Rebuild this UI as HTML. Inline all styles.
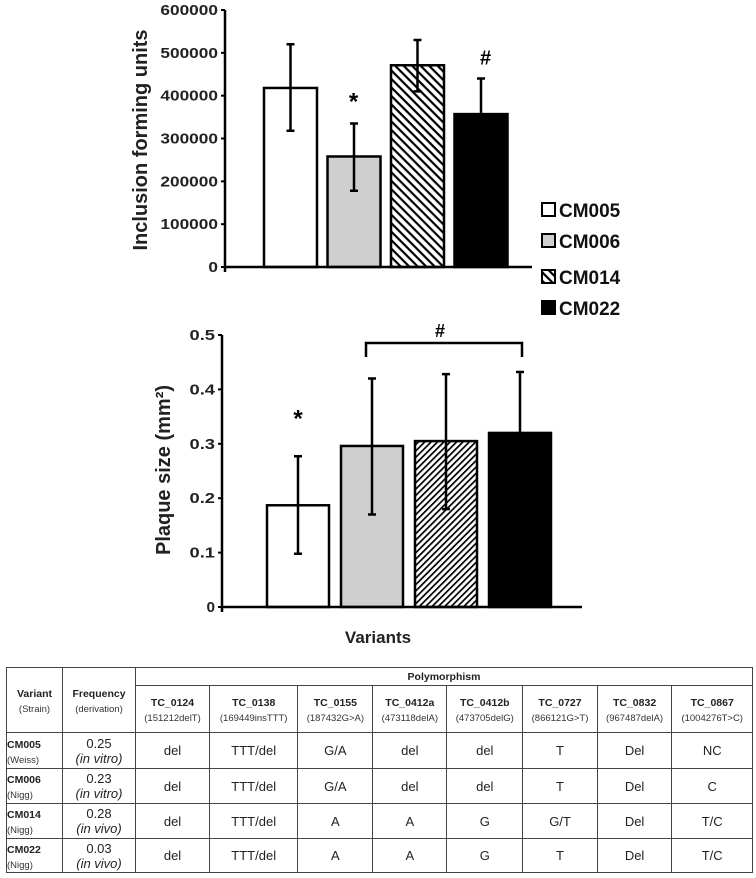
<!DOCTYPE html>
<html><head><meta charset="utf-8"><style>
body{margin:0;background:#fff;width:756px;height:878px;overflow:hidden;font-family:"Liberation Sans",sans-serif}
svg{position:absolute;left:0;top:0}
table{position:absolute;left:6px;top:667px;width:747px;border-collapse:collapse;font-family:"Liberation Sans Narrow","Liberation Sans",sans-serif;color:#222}
td{border:1.5px solid #444;text-align:center;padding:0;font-size:13px}
.h{font-weight:bold;font-size:10.5px}
.s{font-size:9.5px;color:#333}
</style></head><body>
<svg width="756" height="665">
<defs>
<pattern id="hatchA" width="6" height="6" patternUnits="userSpaceOnUse" patternTransform="rotate(45)"><rect width="6" height="6" fill="#fff"/><rect width="6" height="2.2" fill="#000"/></pattern>
<pattern id="hatchB" width="4.5" height="4.5" patternUnits="userSpaceOnUse" patternTransform="rotate(-45)"><rect width="4.5" height="4.5" fill="#fff"/><rect width="4.5" height="1.7" fill="#000"/></pattern>
</defs>
<g id="top"></g>
<g id="bot"></g>
</svg>
<table>
<tr style="height:18px"><td rowspan="2" style="width:55px"><span class="h">Variant</span><br><span class="s">(Strain)</span></td><td rowspan="2" style="width:72px"><span class="h">Frequency</span><br><span class="s">(derivation)</span></td><td colspan="8" class="h">Polymorphism</td></tr>
<tr style="height:47px"><td><span class="h">TC_0124</span><br><span class="s">(151212delT)</span></td><td><span class="h">TC_0138</span><br><span class="s">(169449insTTT)</span></td><td><span class="h">TC_0155</span><br><span class="s">(187432G&gt;A)</span></td><td><span class="h">TC_0412a</span><br><span class="s">(473118delA)</span></td><td><span class="h">TC_0412b</span><br><span class="s">(473705delG)</span></td><td><span class="h">TC_0727</span><br><span class="s">(866121G&gt;T)</span></td><td><span class="h">TC_0832</span><br><span class="s">(967487delA)</span></td><td><span class="h">TC_0867</span><br><span class="s">(1004276T&gt;C)</span></td></tr>
<tr style="height:36px"><td style="text-align:left"><span class="h">CM005</span><br><span class="s">(Weiss)</span></td><td>0.25<br><i>(in vitro)</i></td><td>del</td><td>TTT/del</td><td>G/A</td><td>del</td><td>del</td><td>T</td><td>Del</td><td>NC</td></tr>
<tr style="height:35px"><td style="text-align:left"><span class="h">CM006</span><br><span class="s">(Nigg)</span></td><td>0.23<br><i>(in vitro)</i></td><td>del</td><td>TTT/del</td><td>G/A</td><td>del</td><td>del</td><td>T</td><td>Del</td><td>C</td></tr>
<tr style="height:35px"><td style="text-align:left"><span class="h">CM014</span><br><span class="s">(Nigg)</span></td><td>0.28<br><i>(in vivo)</i></td><td>del</td><td>TTT/del</td><td>A</td><td>A</td><td>G</td><td>G/T</td><td>Del</td><td>T/C</td></tr>
<tr style="height:34px"><td style="text-align:left"><span class="h">CM022</span><br><span class="s">(Nigg)</span></td><td>0.03<br><i>(in vivo)</i></td><td>del</td><td>TTT/del</td><td>A</td><td>A</td><td>G</td><td>T</td><td>Del</td><td>T/C</td></tr>
</table>
<script>
const categories=["CM005","CM006","CM014","CM022"];
const ifuValues=[418000,258000,471000,357000];
const ifuErrLow=[318000,178000,410000,275000];
const ifuErrHigh=[520000,335000,530000,440000];
const ifuTicks=[0,100000,200000,300000,400000,500000,600000];
const plaqueValues=[0.187,0.296,0.305,0.320];
const plaqueErrLow=[0.098,0.170,0.180,0.210];
const plaqueErrHigh=[0.277,0.420,0.428,0.432];
const plaqueTicks=[0,0.1,0.2,0.3,0.4,0.5];
const fills=["#fff","#cfcfcf","url(#hatchA)","#000"];
const fillsB=["#fff","#cfcfcf","url(#hatchB)","#000"];
const NS="http://www.w3.org/2000/svg";
function mk(p,t,a,txt){const e=document.createElementNS(NS,t);for(const k in a)e.setAttribute(k,a[k]);if(txt!==undefined)e.textContent=txt;p.appendChild(e);return e;}
function chart(g,o){
  const y=v=>o.y0-(v-o.min)/(o.max-o.min)*(o.y0-o.y1);
  const x=i=>o.xs+i*o.step;
  o.ticks.forEach(t=>{
    const s=String(t);
    const tl=mk(g,"text",{x:o.ax-7,y:y(t)+5,"text-anchor":"end","font-size":"15","font-weight":"bold",fill:"#222",textLength:s.length*o.cw,lengthAdjust:"spacingAndGlyphs"},s);
    
    
    mk(g,"line",{x1:o.ax-4,x2:o.ax,y1:y(t),y2:y(t),stroke:"#000","stroke-width":2});
  });
  o.vals.forEach((v,i)=>{
    const r=mk(g,"rect",{x:x(i),y:y(v),width:o.bw,height:y(0)-y(v),fill:o.fills[i],stroke:"#000","stroke-width":2.5});
    
    
    const cx=x(i)+o.bw/2;
    const eb=mk(g,"path",{d:`M${cx},${y(o.lo[i])}V${y(o.hi[i])}M${cx-4},${y(o.lo[i])}h8M${cx-4},${y(o.hi[i])}h8`,stroke:"#000","stroke-width":2.5,fill:"none"});
    
    
  });
  mk(g,"line",{x1:o.ax,x2:o.ax,y1:o.y1,y2:y(0)+5,stroke:"#000","stroke-width":2.5});
  mk(g,"line",{x1:o.ax,x2:o.axEnd,y1:y(0),y2:y(0),stroke:"#000","stroke-width":2.5});
  const t=mk(g,"text",{transform:`translate(${o.tx},${o.ty}) rotate(-90)`,"text-anchor":"middle","font-size":"20","font-weight":"bold",fill:"#222"},o.title);
  
  
  return {x,y};
}
const gt=document.getElementById("top");
const A=chart(gt,{min:0,max:600000,y0:267,y1:10,ax:225,axEnd:532,xs:264,step:63.5,bw:53,vals:ifuValues,lo:ifuErrLow,hi:ifuErrHigh,ticks:ifuTicks,fills:fills,title:"Inclusion forming units",tx:147,ty:140,cw:9.6});
mk(gt,"text",{x:A.x(1)+26,y:A.y(ifuErrHigh[1])-14,"text-anchor":"middle","font-size":"24","font-weight":"bold"},"*");
mk(gt,"text",{x:A.x(3)+31,y:A.y(ifuErrHigh[3])-14,"text-anchor":"middle","font-size":"20","font-weight":"bold"},"#");
const ly=[210,241,277,308];
categories.forEach((c,i)=>{
  const s=mk(gt,"rect",{x:542,y:ly[i]-7,width:13,height:13,fill:fills[i],stroke:"#000","stroke-width":2});
  
  
  const t=mk(gt,"text",{x:559,y:ly[i]+7,"font-size":"19","font-weight":"bold",fill:"#111"},c);
  
  
});
const gb=document.getElementById("bot");
const B=chart(gb,{min:0,max:0.5,y0:607,y1:335,ax:222,axEnd:582,xs:267,step:74,bw:62,vals:plaqueValues,lo:plaqueErrLow,hi:plaqueErrHigh,ticks:plaqueTicks,fills:fillsB,title:"Plaque size (mm²)",tx:170,ty:470,cw:8.5});
mk(gb,"text",{x:B.x(0)+31,y:B.y(plaqueErrHigh[0])-30,"text-anchor":"middle","font-size":"24","font-weight":"bold"},"*");
mk(gb,"path",{d:"M366,357V343H522V357",stroke:"#000","stroke-width":2.5,fill:"none"});
mk(gb,"text",{x:440,y:337,"text-anchor":"middle","font-size":"18","font-weight":"bold"},"#");
const xt=mk(gb,"text",{x:378,y:643,"text-anchor":"middle","font-size":"17","font-weight":"bold",fill:"#222"},"Variants");


</script>
</body></html>
